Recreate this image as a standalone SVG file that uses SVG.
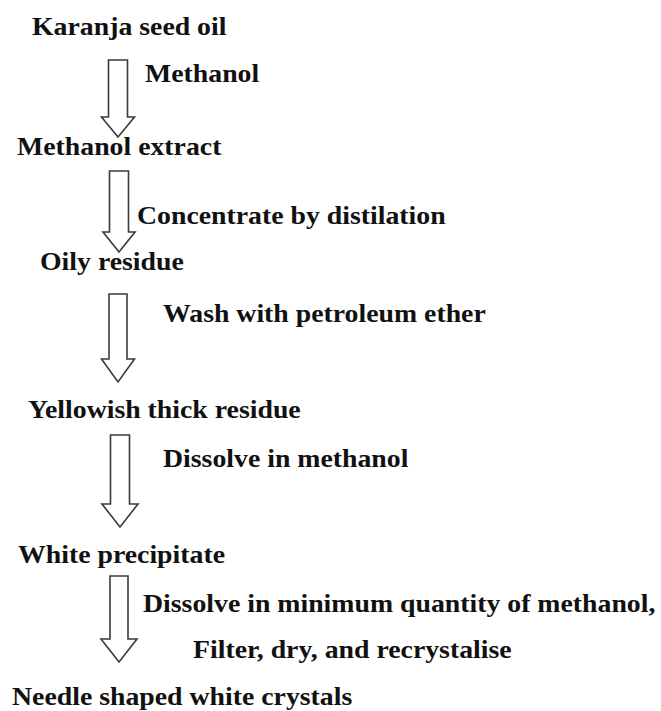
<svg xmlns="http://www.w3.org/2000/svg" width="661" height="711" viewBox="0 0 661 711">
<style>
  text { font-family: 'Liberation Serif', 'Times New Roman', serif; font-weight: bold; font-size: 25.5px; fill: #111; }
  .arrow { fill: #fff; stroke: #3a3a3a; stroke-width: 1.6; stroke-linejoin: miter; }
</style>
<rect width="661" height="711" fill="#fff"/>
<g id="node-karanja"><text transform="matrix(1.09 0 0 1 32 35)">Karanja seed oil</text></g>
<g id="node-methanol-extract"><text transform="matrix(1.09 0 0 1 17 155)">Methanol extract</text></g>
<g id="node-oily-residue"><text transform="matrix(1.09 0 0 1 40 270)">Oily residue</text></g>
<g id="node-yellowish"><text transform="matrix(1.09 0 0 1 28 418)">Yellowish thick residue</text></g>
<g id="node-white-precipitate"><text transform="matrix(1.09 0 0 1 18 563)">White precipitate</text></g>
<g id="node-needle"><text transform="matrix(1.09 0 0 1 12 705)">Needle shaped white crystals</text></g>
<g id="connectors">
  <g id="edge1">
    <polygon class="arrow" points="108.5,60 127.5,60 127.5,117 134.5,117 118,137 101.5,117 108.5,117"/>
    <text transform="matrix(1.09 0 0 1 145 82)">Methanol</text>
  </g>
  <g id="edge2">
    <polygon class="arrow" points="109.5,171 128.5,171 128.5,232 135,232 119,252 103,232 109.5,232"/>
    <text transform="matrix(1.09 0 0 1 137 224)">Concentrate by distilation</text>
  </g>
  <g id="edge3">
    <polygon class="arrow" points="109,294 127,294 127,359 134.5,359 118,382 101.5,359 109,359"/>
    <text transform="matrix(1.09 0 0 1 163 322)">Wash with petroleum ether</text>
  </g>
  <g id="edge4">
    <polygon class="arrow" points="110.5,435 129.5,435 129.5,504 138,504 120,527 102,504 110.5,504"/>
    <text transform="matrix(1.09 0 0 1 163 467)">Dissolve in methanol</text>
  </g>
  <g id="edge5">
    <polygon class="arrow" points="110,576 128,576 128,639 137,639 119,662 101,639 110,639"/>
    <text transform="matrix(1.09 0 0 1 143 612)">Dissolve in minimum quantity of methanol,</text>
    <text transform="matrix(1.09 0 0 1 193 658)">Filter, dry, and recrystalise</text>
  </g>
</g>
</svg>
